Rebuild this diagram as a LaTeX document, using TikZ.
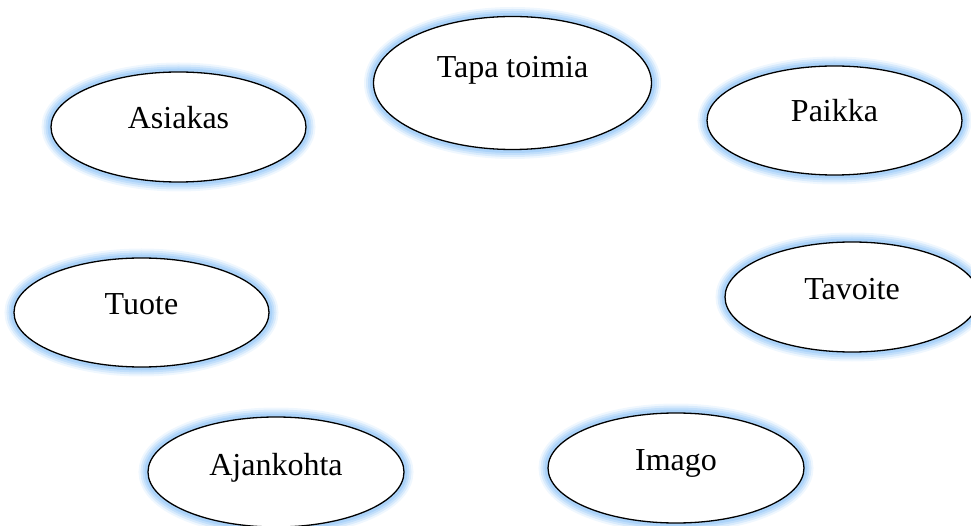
\documentclass[tikz,border=0pt]{standalone}
\usepackage{fontspec}
\setmainfont{Liberation Serif}
\usetikzlibrary{shapes.geometric}
\definecolor{glowc}{RGB}{150,200,248}
\tikzset{
  bub/.style={ellipse, inner sep=0pt, fill=white, draw=black, line width=1.3pt,
    preaction={draw=glowc, line width=19pt, draw opacity=0.15},
    preaction={draw=glowc, line width=15pt, draw opacity=0.25},
    preaction={draw=glowc, line width=11pt, draw opacity=0.35},
    preaction={draw=glowc, line width=7pt, draw opacity=0.5}},
  lbl/.style={anchor=base, inner sep=0pt, font=\fontsize{32}{38}\selectfont}
}
\begin{document}
\begin{tikzpicture}[x=1pt,y=1pt]
\useasboundingbox (0,0) rectangle (971,525);
\node[bub, minimum width=255pt, minimum height=110pt] (asiakas) at (178.5,398) {};
\node[lbl] (asiakasT) at (178.5,396) {Asiakas};
\node[bub, minimum width=278pt, minimum height=133pt] (tapa) at (512.5,442) {};
\node[lbl] (tapaT) at (512.5,447) {Tapa toimia};
\node[bub, minimum width=255pt, minimum height=109pt] (paikka) at (834.5,404.5) {};
\node[lbl] (paikkaT) at (834.5,403) {Paikka};
\node[bub, minimum width=255pt, minimum height=109pt] (tuote) at (141.5,212.5) {};
\node[lbl] (tuoteT) at (141.5,210) {Tuote};
\node[bub, minimum width=254pt, minimum height=110pt] (tavoite) at (852,228) {};
\node[lbl] (tavoiteT) at (852,225) {Tavoite};
\node[bub, minimum width=256pt, minimum height=110pt] (ajankohta) at (276,53) {};
\node[lbl] (ajankohtaT) at (276,50) {Ajankohta};
\node[bub, minimum width=256pt, minimum height=110pt] (imago) at (676,57) {};
\node[lbl] (imagoT) at (676,55) {Imago};
\end{tikzpicture}
\end{document}
